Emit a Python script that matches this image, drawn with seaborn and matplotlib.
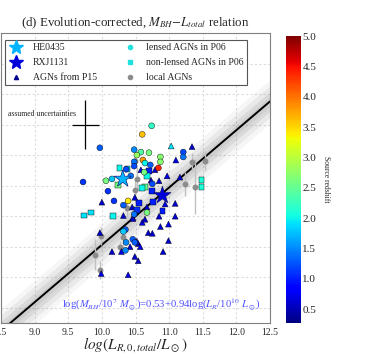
import numpy as np
import pandas as pd
import matplotlib
matplotlib.use("Agg")
import matplotlib.pyplot as plt
from matplotlib.lines import Line2D
import seaborn as sns

# --- data ---
p15_x = [11.03, 11.34, 11.10, 10.85, 10.97, 11.16, 10.73, 10.79, 10.58, 11.09, 10.94, 10.67,
         10.85, 11.09, 10.99, 10.87, 10.69, 10.75, 10.54, 10.57, 10.99, 10.91, 10.54, 10.39,
         9.97, 10.15, 10.29, 10.49, 10.42, 9.99, 10.00, 10.45, 10.46, 10.49, 10.32, 10.46,
         10.60, 10.64, 10.52]
p15_y = [9.15, 9.14, 8.92, 8.58, 8.66, 8.64, 8.59, 8.76, 8.76, 8.21, 8.20, 8.15,
         8.00, 8.00, 7.87, 7.83, 7.73, 7.72, 7.55, 7.50, 7.60, 7.42, 7.27, 7.04,
         7.73, 7.42, 7.42, 7.34, 7.50, 7.06, 8.23, 8.15, 7.98, 8.31, 8.01, 7.96,
         7.90, 7.95, 7.59]
p15_z = [1.9, 0.6, 0.7, 0.6, 0.7, 0.6, 0.6, 0.6, 0.7, 0.6, 0.7, 0.6,
         0.6, 0.6, 0.7, 0.6, 0.6, 0.6, 0.6, 0.7, 0.6, 0.6, 0.6, 0.7,
         0.6, 0.6, 0.7, 0.6, 0.6, 0.7, 0.6, 0.6, 0.7, 0.6, 0.6, 0.6,
         0.7, 0.6, 0.6]

lensed_x = [10.74, 10.60, 9.97, 11.21, 11.21, 10.48, 10.58, 10.70, 10.52, 10.61, 10.48, 10.87,
            10.87, 10.64, 10.72, 10.84, 10.48, 10.36, 10.63, 9.72, 10.06, 10.15, 10.43, 10.75,
            10.09, 10.39, 10.18, 10.32, 10.67, 10.48, 10.35, 10.32, 10.36, 10.46, 10.35, 10.49]
lensed_y = [9.48, 9.34, 9.12, 9.05, 8.97, 9.09, 9.05, 9.04, 9.00, 8.92, 8.89, 8.97,
            8.89, 8.87, 8.84, 8.79, 8.82, 8.77, 8.72, 8.56, 8.58, 8.61, 8.66, 8.53,
            8.41, 8.25, 8.25, 8.18, 8.06, 8.03, 7.78, 7.75, 7.57, 7.62, 7.44, 7.57]
lensed_z = [2.2, 3.6, 1.3, 1.2, 1.4, 1.5, 2.4, 2.6, 2.8, 3.8, 1.4, 2.7,
            2.7, 2.0, 1.3, 4.4, 1.2, 1.2, 2.6, 1.1, 2.6, 1.8, 1.4, 1.2,
            1.1, 3.4, 1.1, 1.3, 2.6, 1.4, 1.3, 1.8, 1.5, 1.3, 1.5, 1.3]

nonlensed_x = [10.26, 10.38, 10.70, 10.67, 10.24, 10.64, 10.60, 10.75, 11.48, 11.48,
               9.735, 9.84, 10.17, 10.76, 10.90, 10.55, 10.52]
nonlensed_y = [8.79, 8.77, 8.74, 8.66, 8.51, 8.48, 8.46, 8.41, 8.59, 8.48,
               8.01, 8.06, 8.00, 8.23, 8.08, 8.22, 8.10]
nonlensed_z = [2.0, 1.9, 1.0, 2.0, 2.6, 2.5, 2.0, 1.0, 2.1, 2.1,
               1.9, 1.9, 2.0, 1.0, 1.0, 1.0, 1.1]

local_x = [11.34, 11.54, 10.49, 10.52, 10.49, 11.24, 11.39, 10.38, 9.99, 9.90, 9.97, 10.27, 10.32]
local_y = [8.89, 8.91, 8.91, 8.61, 8.43, 8.53, 8.48, 8.13, 7.68, 7.37, 7.12, 7.50, 7.66]
local_err = [0.15, 0.15, 0.10, 0.20, 0.20, 0.20, 0.45, 0.15, 0.15, 0.25, 0.15, 0.10, 0.15]

star_names = ["HE0435", "RXJ1131"]
star_x = [10.31, 10.90]
star_y = [8.61, 8.34]
star_z = [1.693, 0.654]

fit_a, fit_b = 0.53, 0.94
z_min, z_max = 0.27, 5.0

# --- style ---
sns.set_style("whitegrid", {"grid.linestyle": (0, (2, 2)), "grid.color": "#dcdcdc",
                            "axes.edgecolor": "#808080"})
plt.rcParams["font.family"] = ["Liberation Serif", "DejaVu Serif"]
plt.rcParams["mathtext.fontset"] = "stix"

fig = plt.figure(figsize=(3.8, 3.59), dpi=100)
ax = fig.add_axes([0.0026, 0.1003, 0.708, 0.8077])
cax = fig.add_axes([0.7526, 0.1003, 0.0395, 0.7994])

cmap = plt.get_cmap("jet")
norm = matplotlib.colors.Normalize(vmin=z_min, vmax=z_max)

# fit line with shaded scatter band
xx = np.linspace(8.5, 12.5, 50)
yy = 7 + fit_a + fit_b * (xx - 10)
for w, a in [(0.36, 0.07), (0.26, 0.11), (0.16, 0.15), (0.08, 0.12)]:
    ax.fill_between(xx, yy - w, yy + w, color="gray", alpha=a, lw=0, zorder=1)
ax.plot(xx, yy, color="black", lw=1.4, zorder=2)

# local AGNs
ax.errorbar(local_x, local_y, yerr=local_err, fmt="none", ecolor="#c0c0c0", elinewidth=1, zorder=3)
sns.scatterplot(x=local_x, y=local_y, color="#8c8c8c", s=18, linewidth=0, ax=ax, zorder=3)

# colored samples
df_p15 = pd.DataFrame({"x": p15_x, "y": p15_y, "z": p15_z})
df_len = pd.DataFrame({"x": lensed_x, "y": lensed_y, "z": lensed_z})
df_non = pd.DataFrame({"x": nonlensed_x, "y": nonlensed_y, "z": nonlensed_z})
df_star = pd.DataFrame({"x": star_x, "y": star_y, "z": star_z})
for df, mk, size in [(df_p15, "^", 18), (df_non, "s", 17), (df_len, "o", 18)]:
    sns.scatterplot(data=df, x="x", y="y", hue="z", palette=cmap, hue_norm=norm, marker=mk,
                    s=size, edgecolor="black", linewidth=0.3, legend=False, ax=ax, zorder=4)
sns.scatterplot(data=df_star, x="x", y="y", hue="z", palette=cmap, hue_norm=norm, marker="*",
                s=170, edgecolor="#000060", linewidth=0.4, legend=False, ax=ax, zorder=5)

# assumed uncertainties cross
ax.errorbar([9.75], [9.5], xerr=0.2, yerr=0.4, fmt="none", ecolor="black", elinewidth=0.9, zorder=5)
ax.text(8.6, 9.68, "assumed uncertainties", fontsize=5.6, ha="left", va="center")

ax.text(10.89, 6.55, r"log($M_{BH}$/10$^7$ $M_\odot$)=0.53+0.94log($L_R$/10$^{10}$ $L_\odot$)",
        color="#5050ff", fontsize=7.7, ha="center", va="center")

ax.set_xlim(8.5, 12.5)
ax.set_ylim(6.25, 11.0)
ax.set_xticks(np.arange(8.5, 12.51, 0.5))
ax.set_yticks(np.arange(6.5, 11.01, 0.5))
ax.tick_params(axis="x", labelsize=7, pad=0)
ax.tick_params(axis="y", labelleft=False)
ax.set_xlabel(r"$log(L_{R,0,total}/L_\odot)$", fontsize=11, labelpad=-1)
ax.set_ylabel("")
ax.set_title(r"(d) Evolution-corrected, $M_{BH}$$-$$L_{total}$ relation", fontsize=9.3, pad=5)

# legend
handles = [
    Line2D([], [], ls="", marker="*", ms=10, color=cmap(norm(star_z[0])), mec=cmap(norm(star_z[0]))),
    Line2D([], [], ls="", marker="*", ms=10, color=cmap(norm(star_z[1])), mec=cmap(norm(star_z[1]))),
    Line2D([], [], ls="", marker="^", ms=3, color="#000090"),
    Line2D([], [], ls="", marker="o", ms=3, color="#20e0e0"),
    Line2D([], [], ls="", marker="s", ms=3, color="#20e0e0"),
    Line2D([], [], ls="", marker="o", ms=3, color="#8c8c8c"),
]
labels = star_names + ["AGNs from P15", "lensed AGNs in P06", "non-lensed AGNs in P06", "local AGNs"]
leg = ax.legend(handles, labels, ncol=2, loc="upper left", bbox_to_anchor=(0.015, 0.976),
                borderaxespad=0, fontsize=7, frameon=True, fancybox=False, framealpha=1,
                edgecolor="#555555", handlelength=1.6, handletextpad=0.9, columnspacing=2.6,
                labelspacing=0.6, borderpad=0.35)
leg.get_frame().set_linewidth(0.8)

# colorbar
sm = matplotlib.cm.ScalarMappable(norm=norm, cmap=cmap)
cb = fig.colorbar(sm, cax=cax)
cb.set_ticks(np.arange(0.5, 5.01, 0.5))
cb.ax.tick_params(labelsize=8, length=0, pad=1)
cb.outline.set_linewidth(0)
cb.set_label("Source redshift", fontsize=5.5, rotation=270, labelpad=10)

fig.savefig("out.png", dpi=100)
